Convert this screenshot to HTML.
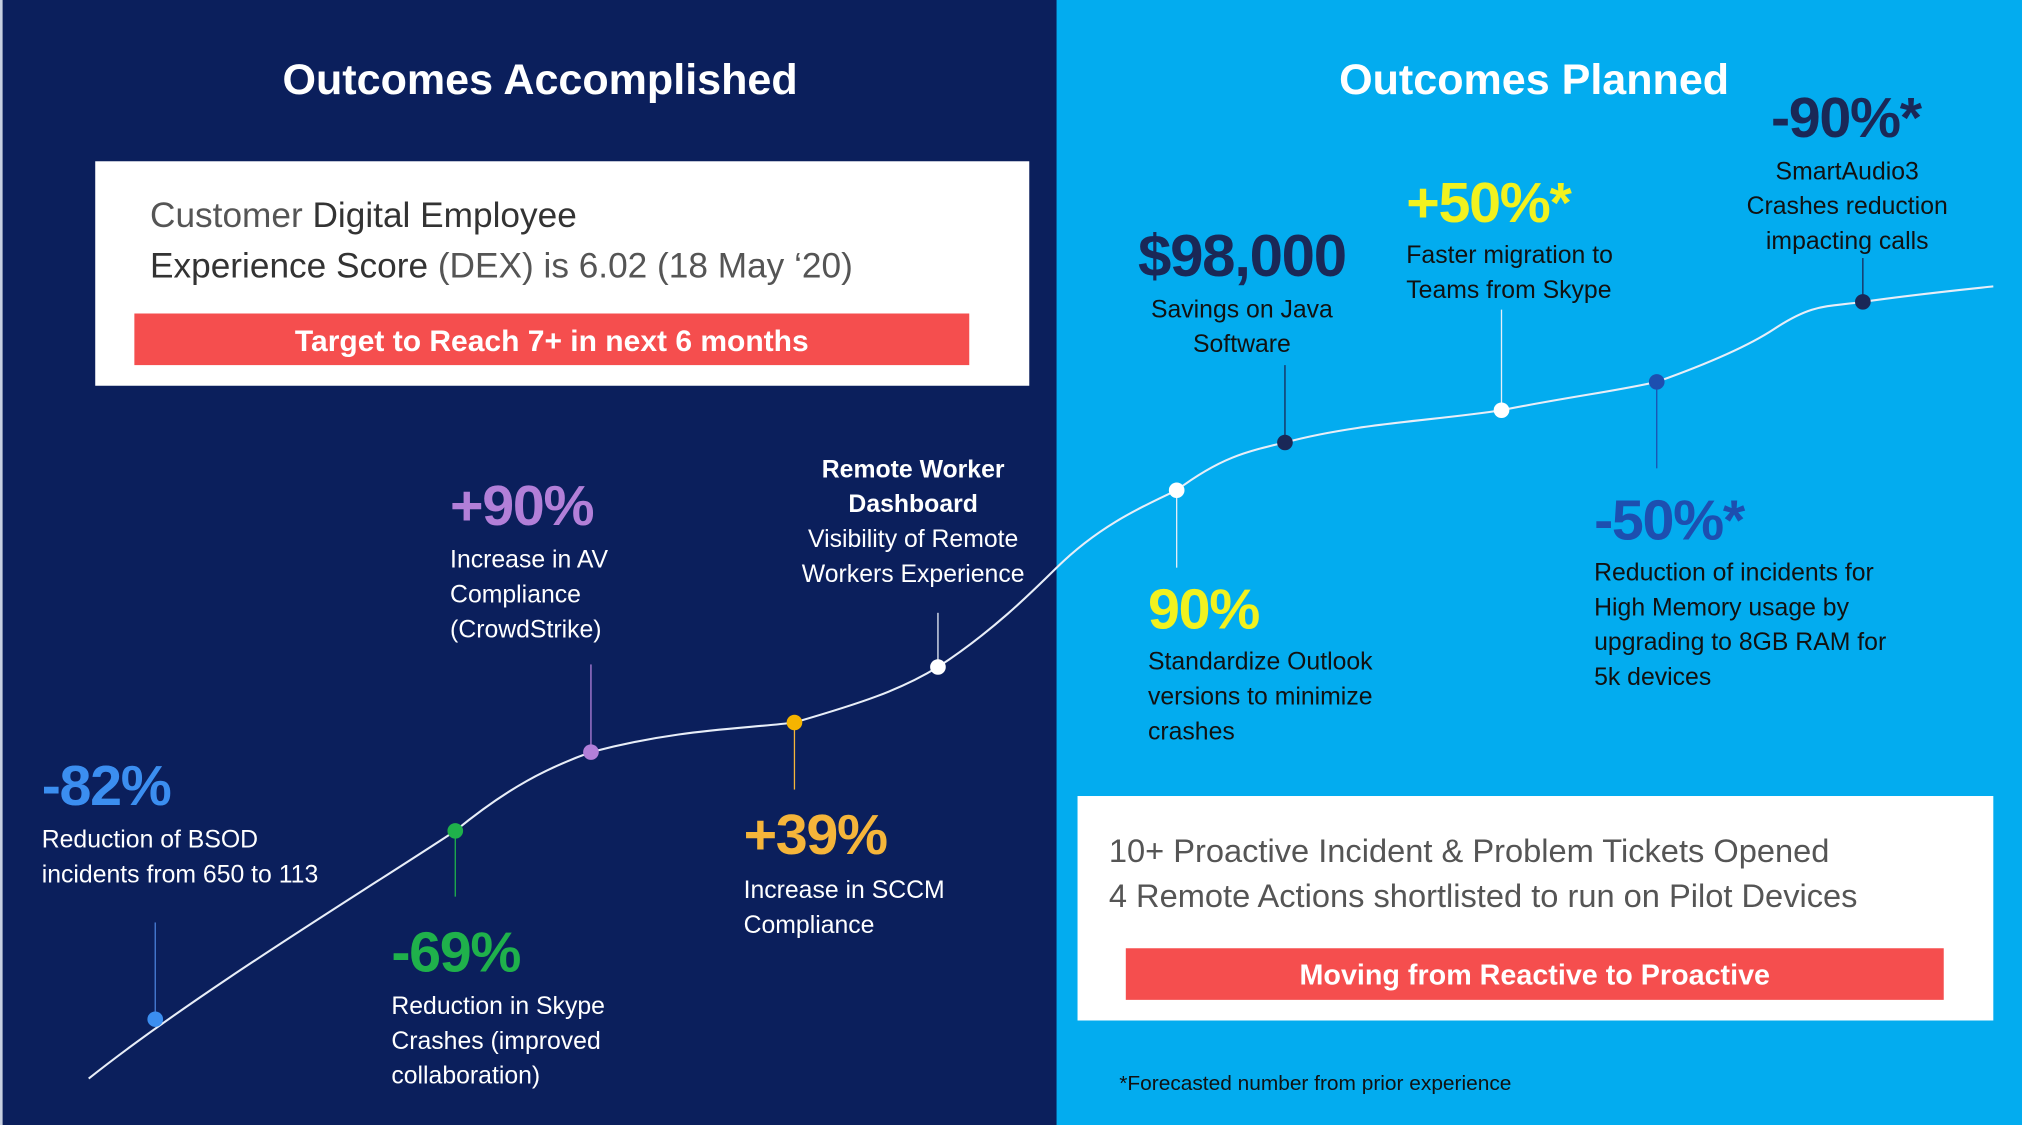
<!DOCTYPE html>
<html><head><meta charset="utf-8"><style>
html,body{margin:0;padding:0;width:2022px;height:1125px;overflow:hidden;background:#00aeef}
#w{position:absolute;left:0;top:0;width:1550px;height:872px;transform:scale(1.30452,1.29014);transform-origin:0 0;font-family:"Liberation Sans",sans-serif}
.t{position:absolute;white-space:nowrap;line-height:27px;font-size:19px}
.big{position:absolute;white-space:nowrap;font-weight:bold;font-size:44px;line-height:44px;letter-spacing:-1px}
.c{text-align:center;transform:translateX(-50%)}
</style></head><body><div id="w">
<div style="position:absolute;left:0;top:0;width:810px;height:872px;background:#0b1f5c;border-left:2px solid #c8d0e0;box-sizing:border-box"></div>
<div style="position:absolute;left:810px;top:0;width:740px;height:872px;background:#03acef"></div>

<div class="t c" style="left:414px;top:40px;font-size:33px;font-weight:bold;color:#fff;line-height:44px">Outcomes Accomplished</div>
<div class="t c" style="left:1176px;top:40px;font-size:33px;font-weight:bold;color:#fff;line-height:44px">Outcomes Planned</div>

<div style="position:absolute;left:73px;top:125px;width:716px;height:174px;background:#fff"></div>
<div class="t" style="left:115px;top:148px;font-size:27px;line-height:39px;color:#555">Customer <span style="color:#333">Digital Employee</span><br><span style="color:#333">Experience Score</span> (DEX) is 6.02 (18 May ‘20)</div>
<div style="position:absolute;left:103px;top:243px;width:640px;height:40px;background:#f54e4e;color:#fff;font-weight:bold;font-size:23px;line-height:42px;text-align:center">Target to Reach 7+ in next 6 months</div>

<div style="position:absolute;left:826px;top:617px;width:702px;height:174px;background:#fff"></div>
<div class="t" style="left:850px;top:643px;font-size:25px;line-height:35px;color:#555">10+ Proactive Incident &amp; Problem Tickets Opened<br>4 Remote Actions shortlisted to run on Pilot Devices</div>
<div style="position:absolute;left:863px;top:735px;width:627px;height:40px;background:#f54e4e;color:#fff;font-weight:bold;font-size:22px;line-height:42px;text-align:center">Moving from Reactive to Proactive</div>

<svg style="position:absolute;left:0;top:0" width="1550" height="872">
<path d="M68,836 C150,770 280,690 349,644 C390,610 420,595 453,583 C520,565 570,565 609,560 C660,545 690,535 719,517 C760,490 790,460 810,440 C840,410 870,395 902,380 C935,355 955,350 985,343 C1040,328 1100,326 1151,318 C1200,308 1240,303 1270,296 C1320,278 1345,265 1360,255 C1390,235 1400,238 1428,234 C1470,228 1500,225 1528,222" fill="none" stroke="#e8eef8" stroke-width="1.6"/>
<g stroke-width="1">
<line x1="119" y1="715" x2="119" y2="790" stroke="#4a7fd8"/>
<line x1="349" y1="644" x2="349" y2="695" stroke="#1fb14b"/>
<line x1="453" y1="515" x2="453" y2="583" stroke="#b27fd8"/>
<line x1="609" y1="560" x2="609" y2="612" stroke="#f5b53a"/>
<line x1="719" y1="475" x2="719" y2="517" stroke="#e8eef8"/>
<line x1="902" y1="380" x2="902" y2="440" stroke="#e8eef8"/>
<line x1="985" y1="283" x2="985" y2="343" stroke="#1a2857"/>
<line x1="1151" y1="240" x2="1151" y2="318" stroke="#e8eef8"/>
<line x1="1270" y1="296" x2="1270" y2="363" stroke="#1d4fb0"/>
<line x1="1428" y1="200" x2="1428" y2="234" stroke="#1a2857"/>
</g>
<circle cx="119" cy="790" r="6" fill="#3b8ef0"/>
<circle cx="349" cy="644" r="6" fill="#1fb14b"/>
<circle cx="453" cy="583" r="6" fill="#b27fd8"/>
<circle cx="609" cy="560" r="6" fill="#f5b400"/>
<circle cx="719" cy="517" r="6" fill="#fff"/>
<circle cx="902" cy="380" r="6" fill="#fff"/>
<circle cx="985" cy="343" r="6" fill="#1a2857"/>
<circle cx="1151" cy="318" r="6" fill="#fff"/>
<circle cx="1270" cy="296" r="6" fill="#1d4fb0"/>
<circle cx="1428" cy="234" r="6" fill="#1a2857"/>
</svg>

<div class="big" style="left:32px;top:588px;color:#3b8ef0">-82%</div>
<div class="t" style="left:32px;top:638px;color:#fff">Reduction of BSOD<br>incidents from 650 to 113</div>

<div class="big" style="left:300px;top:717px;color:#1fb14b">-69%</div>
<div class="t" style="left:300px;top:767px;color:#fff">Reduction in Skype<br>Crashes (improved<br>collaboration)</div>

<div class="big" style="left:345px;top:371px;color:#b27fd8">+90%</div>
<div class="t" style="left:345px;top:421px;color:#fff">Increase in AV<br>Compliance<br>(CrowdStrike)</div>

<div class="big" style="left:570px;top:626px;color:#f5b53a">+39%</div>
<div class="t" style="left:570px;top:677px;color:#fff">Increase in SCCM<br>Compliance</div>

<div class="t c" style="left:700px;top:351px;color:#fff"><b>Remote Worker<br>Dashboard</b><br>Visibility of Remote<br>Workers Experience</div>

<div class="big c" style="left:952px;top:176px;color:#1a2857;font-size:46px">$98,000</div>
<div class="t c" style="left:952px;top:227px;color:#111">Savings on Java<br>Software</div>

<div class="big" style="left:880px;top:451px;color:#f2f21e">90%</div>
<div class="t" style="left:880px;top:500px;color:#111">Standardize Outlook<br>versions to minimize<br>crashes</div>

<div class="big" style="left:1078px;top:136px;color:#f2f21e">+50%*</div>
<div class="t" style="left:1078px;top:185px;color:#111">Faster migration to<br>Teams from Skype</div>

<div class="big" style="left:1222px;top:382px;color:#1d4fb0">-50%*</div>
<div class="t" style="left:1222px;top:431px;color:#111">Reduction of incidents for<br>High Memory usage by<br>upgrading to 8GB RAM for<br>5k devices</div>

<div class="big c" style="left:1415px;top:70px;color:#1a2857">-90%*</div>
<div class="t c" style="left:1416px;top:120px;color:#111">SmartAudio3<br>Crashes reduction<br>impacting calls</div>

<div class="t" style="left:858px;top:829px;font-size:16px;line-height:24px;color:#111">*Forecasted number from prior experience</div>
</div></body></html>
